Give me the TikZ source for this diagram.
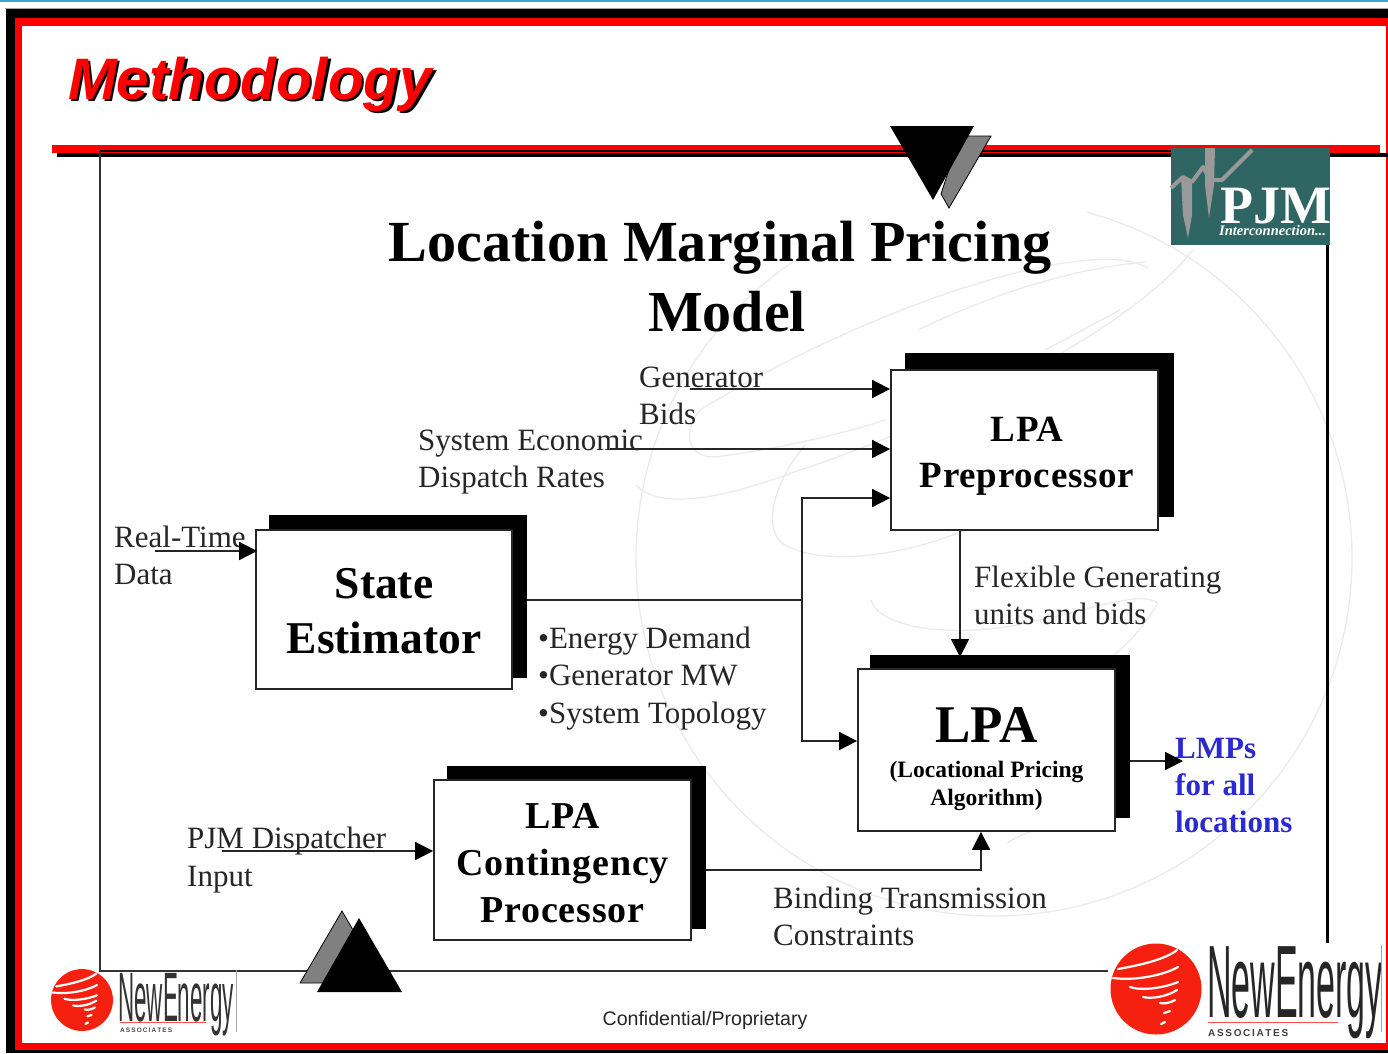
\documentclass[tikz,border=0pt]{standalone}
\usepackage{fontspec}
\usepackage{graphicx}
\usetikzlibrary{arrows.meta,calc}
\setmainfont{Liberation Serif}
\newfontfamily\arialf{Liberation Sans}
\newfontfamily\lsf[LetterSpace=2]{Liberation Serif}
\definecolor{topblue}{HTML}{3FA5D5}
\definecolor{pjmteal}{HTML}{2F6663}
\definecolor{lmpblue}{HTML}{2A2AD0}
\definecolor{wmark}{HTML}{EBEBEB}
\definecolor{neared}{HTML}{F5200F}
\definecolor{labelgray}{HTML}{262626}
\newcommand{\fsz}[2]{\fontsize{#1}{#2}\selectfont}
\newcommand{\hh}[1]{\rule{0pt}{#1pt}}
\newcommand{\dd}[1]{\rule[-#1pt]{0pt}{#1pt}}
\tikzset{
  x=1pt,y=-1pt,
  conn/.style={draw=black!85,line width=1.8pt},
  arrowconn/.style={conn,-{Triangle[length=18pt,width=18pt,color=black]}},
  boxwhite/.style={draw=black!85,line width=1.8pt,fill=white,inner sep=0pt,align=center,font=\bfseries},
  boxshadow/.style={fill=black,inner sep=0pt},
  lbl/.style={anchor=north west,inner sep=0pt,align=left,text=labelgray,font=\fsz{31}{37}},
  wm/.style={draw=wmark,line width=1.3pt},
  swirlline/.style={draw=white,line width=2.2pt,line cap=round},
}
\newcommand{\globe}[3]{%
  \begin{scope}[shift={(#1,#2)},scale=#3]
    \fill[neared] (0,0) circle[radius=45.5];
    \draw[swirlline] (-38,-20) .. controls (-15,-24) and (10,-30) .. (21,-39);
    \draw[swirlline] (-43,-11) .. controls (-20,-8) and (8,-14) .. (22,-22);
    \draw[swirlline] (-26,-2) .. controls (-15,2) and (8,-1) .. (22,-7);
    \draw[swirlline] (-13,8) .. controls (-5,10) and (10,8) .. (21,1);
    \draw[swirlline] (4,14) .. controls (8,15) and (14,14) .. (19,11);
    \draw[swirlline] (8,24) -- (14,22);
    \draw[swirlline] (5,35) -- (9,33);
  \end{scope}}
\begin{document}
\begin{tikzpicture}
\useasboundingbox (0,0) rectangle (1388,1053);
\fill[white] (0,0) rectangle (1388,1053);
% page chrome
\fill[topblue] (0,0) rectangle (1388,2);
\fill[black!35] (5,8) rectangle (1388,9);
\fill[black] (6,9) rectangle (1388,1053);
\fill[red] (15,18) rectangle (1388,1050);
\fill[white] (22,26) rectangle (1386,1043);
% watermark
\draw[wm] (994,558) ++(5:358) arc[start angle=5,end angle=238,radius=358];
\draw[wm] (994,558) ++(285:358) arc[start angle=285,end angle=365,radius=358];
\draw[wm] (1148,268) .. controls (1095,235) and (880,300) .. (700,410) .. controls (680,435) and (690,462) .. (722,456) .. controls (770,450) and (840,435) .. (885,420);
\draw[wm] (636,485) .. controls (660,510) and (720,500) .. (800,470) .. controls (950,420) and (1130,330) .. (1193,250);
\draw[wm] (918,330) .. controls (980,300) and (1060,270) .. (1145,262);
\draw[wm] (805,445) .. controls (775,480) and (760,530) .. (785,545) .. controls (830,570) and (920,550) .. (965,530);
\draw[wm] (1045,350) -- (1120,310);
\draw[wm] (871,600) .. controls (880,630) and (960,640) .. (1040,620) .. controls (1090,610) and (1140,590) .. (1158,603);
\draw[wm] (1158,603) .. controls (1130,650) and (1090,680) .. (1030,700);
\draw[wm] (1007,843) .. controls (1030,830) and (1045,825) .. (1060,822);
% rule
\fill[red] (52,145) rectangle (1380,153);
\fill[black] (57,153) rectangle (1388,157);
\draw[black,line width=1.5pt] (100,151) -- (1171,151);
% frame
\draw[black!80,line width=1.3pt] (100,151) -- (100,971) -- (1112,971);
\draw[black,line width=3pt] (1327,244) -- (1327,943);
% triangles
\fill[black!50,draw=black,line width=0.8pt] (960,136) -- (991,136) -- (949,208) -- (941,194) -- cycle;
\fill[black] (890,126) -- (974,126) -- (933,200) -- cycle;
\fill[black!50,draw=black,line width=0.8pt] (342,911) -- (300,983) -- (325,983) -- (353,930) -- cycle;
\fill[black] (359,918) -- (317,992) -- (402,992) -- cycle;
% title
\node[anchor=base west,inner sep=0pt,text=black,font=\arialf\bfseries\itshape\fsz{58.5}{60}] (mshadow) at (70.5,101.5) {Methodology};
\node[anchor=base west,inner sep=0pt,text=red,font=\arialf\bfseries\itshape\fsz{58.5}{60}] (methodology) at (68,99) {Methodology};
\node[anchor=base,inner sep=0pt,font=\bfseries\fsz{58.2}{60}] (title1) at (720,261) {Location Marginal Pricing};
\node[anchor=base,inner sep=0pt,font=\bfseries\fsz{58}{60}] (title2) at (727,331) {Model};
% PJM logo
\fill[pjmteal] (1171,148) rectangle (1330,245);
\fill[black!40] (1205,148) -- (1215,148) -- (1214,185) -- (1209,218) -- (1205,185) -- cycle;
\fill[black!40] (1181,178) -- (1192,182) -- (1192,215) -- (1188,238) -- (1183,215) -- cycle;
\draw[black!40,line width=4pt,line join=round] (1171,188) -- (1183,177) -- (1192,182) -- (1203,167) -- (1210,180) -- (1222,180) -- (1252,150);
\node[anchor=base west,inner sep=0pt,text=white,font=\bfseries\fsz{54}{56}] (pjm) at (1220,223) {PJM};
\node[anchor=base west,inner sep=0pt,text=white,font=\bfseries\itshape\fsz{14.5}{16}] (pjmsub) at (1219,235) {Interconnection...};
% boxes
\node[boxshadow,minimum width=269pt,minimum height=164pt] (prepS) at (1039.5,435) {};
\node[boxwhite,minimum width=267pt,minimum height=160pt,font=\bfseries\lsf\fsz{37}{46}] (prep) at (1024.5,450) {\hh{38}\hspace*{5pt}LPA\\\hspace*{5pt}Preprocessor\dd{10}};
\node[boxshadow,minimum width=258pt,minimum height=163pt] (stateS) at (398,596.5) {};
\node[boxwhite,minimum width=256pt,minimum height=159pt,font=\bfseries\fsz{45.5}{55}] (state) at (384,609.5) {\hh{44}State\\Estimator\dd{12}};
\node[boxshadow,minimum width=259pt,minimum height=163pt] (contS) at (576.5,847.5) {};
\node[boxwhite,minimum width=257pt,minimum height=160pt,font=\bfseries\lsf\fsz{38}{47}] (cont) at (562.5,860) {\hh{42}LPA\\Contingency\\Processor\dd{12}};
\node[boxshadow,minimum width=260pt,minimum height=163pt] (lpaS) at (1000,736.5) {};
\node[boxwhite,minimum width=257pt,minimum height=162pt,font=\bfseries\fsz{23.5}{28}] (lpa) at (986.5,750) {\hh{57}{\fsz{53}{28}LPA}\\[7pt](Locational Pricing\\Algorithm)\dd{10}};
% labels
\node[lbl] (lgen) at (639,361) {\strut Generator\\Bids};
\node[lbl] (lsys) at (418,424) {\strut System Economic\\Dispatch Rates};
\node[lbl] (lreal) at (114,521) {\strut Real-Time\\Data};
\node[lbl] (lflex) at (974,561) {\strut Flexible Generating\\units and bids};
\node[lbl] (lbul) at (538,622) {\strut •Energy Demand\\•Generator MW\\[1pt]•System Topology};
\node[lbl] (lpjm) at (187,822) {\strut PJM Dispatcher\\[1pt]Input};
\node[lbl] (lbind) at (773,882) {\strut Binding Transmission\\Constraints};
\node[lbl,text=lmpblue,font=\bfseries\fsz{31}{37}] (llmp) at (1175,732) {\strut LMPs\\for all\\locations};
% connector ends
\coordinate (cgen) at (690,389);
\coordinate (csys) at (610,449);
\coordinate (creal) at (155,551);
\coordinate (cpjm) at (222,851);
\coordinate (cbr) at (802,600);
\coordinate (cup) at (802,498);
\coordinate (cdn) at (802,741);
\coordinate (clmp) at (1183,761);
\coordinate (cflex) at (960,530);
\coordinate (cflexe) at (960,657);
\coordinate (cbend) at (981,870);
\draw[arrowconn] (cgen) -- (cgen -| prep.west);
\draw[arrowconn] (csys) -- (csys -| prep.west);
\draw[arrowconn] (creal) -- ($(creal -| state.west)+(2,0)$);
\draw[arrowconn] (cpjm) -- (cpjm -| cont.west);
\draw[conn] (cbr -| stateS.east) -- (cbr);
\draw[arrowconn] (cbr) -- (cup) -- (cup -| prep.west);
\draw[arrowconn] (cbr) -- (cdn) -- (cdn -| lpa.west);
\draw[arrowconn] (cflex) -- (cflexe);
\draw[arrowconn] (cbend -| contS.east) -- (cbend) -- (cbend |- lpa.south);
\draw[arrowconn] (clmp -| lpaS.east) -- (clmp);
% footer
\node[anchor=base,inner sep=0pt,text=labelgray,font=\arialf\fsz{19.6}{24}] (conf) at (705,1025) {Confidential/Proprietary};
% big logo
\fill[white] (1108,943) rectangle (1385,1041);
\globe{1156}{989}{1}
\node[anchor=base west,inner sep=0pt,text=black!85,font=\arialf\fsz{103}{105}] (ne1) at (1207,1017) {\scalebox{0.33}[1]{NewEnergy}};
\draw[red!70,line width=0.8pt] (1208,1022) -- (1338,1022);
\node[anchor=base west,inner sep=0pt,text=black!75,font=\arialf\bfseries\fsz{10}{12}] (as1) at (1208,1036) {A\,S\,S\,O\,C\,I\,A\,T\,E\,S};
\draw[black!35,line width=1pt] (1381,945) -- (1381,1032);
% small logo
\globe{82}{1000}{0.68}
\node[anchor=base west,inner sep=0pt,text=black!80,font=\arialf\fsz{70}{72}] (ne2) at (118,1021) {\scalebox{0.32}[1]{NewEnergy}};
\draw[red!70,line width=0.6pt] (120,1022) -- (206,1022);
\node[anchor=base west,inner sep=0pt,text=black!70,font=\arialf\bfseries\fsz{6.5}{8}] (as2) at (120,1032) {A\,S\,S\,O\,C\,I\,A\,T\,E\,S};
\draw[black!35,line width=0.8pt] (236,970) -- (236,1032);
\end{tikzpicture}
\end{document}
